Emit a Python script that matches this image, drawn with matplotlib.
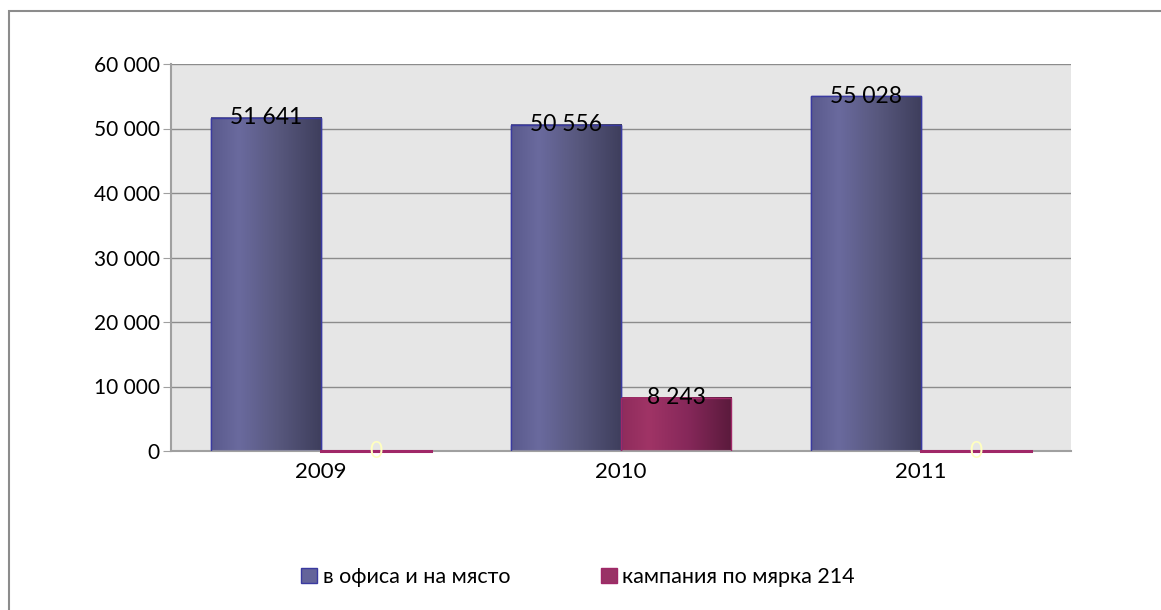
import numpy as np
import matplotlib.pyplot as plt
from matplotlib.patches import Rectangle
from matplotlib.colors import LinearSegmentedColormap

plt.rcParams['font.family'] = ['Lato', 'DejaVu Sans']

years = ['2009', '2010', '2011']
office = [51641, 50556, 55028]
campaign = [0, 8243, 0]
series_names = ['в офиса и на място', 'кампания по мярка 214']

blue_base = '#64649a'
pink_base = '#993366'
blue_cmap = LinearSegmentedColormap.from_list(
    'blue', [(0, '#5a5a8c'), (0.25, '#6a6a9e'), (0.6, '#58587e'), (1, '#3e3e5c')])
pink_cmap = LinearSegmentedColormap.from_list(
    'pink', [(0, '#8e2c5c'), (0.25, '#a03466'), (0.6, '#86285a'), (1, '#5a1a3c')])


def fmt(v):
    return f'{v:,.0f}'.replace(',', ' ')


fig = plt.figure(figsize=(11.61, 6.10), dpi=100)
ax = fig.add_axes([171 / 1161, 1 - 451 / 610, 900 / 1161, 387 / 610])
ax.set_facecolor('#e6e6e6')

x = np.arange(len(years))
w = 0.3667
grad = np.linspace(0, 1, 256).reshape(1, -1)

b1 = ax.bar(x - w / 2, office, w, color=blue_base, edgecolor='#3a3aa0',
            linewidth=1, zorder=2, label=series_names[0])
b2 = ax.bar(x + w / 2, campaign, w, color=pink_base, edgecolor='#a02868',
            linewidth=1.2, zorder=2, label=series_names[1])

# shaded fill inside each bar; zero bars show as a flat line on the baseline
for bars, cmap in ((b1, blue_cmap), (b2, pink_cmap)):
    for p in bars:
        h = p.get_height()
        x0 = p.get_x()
        if h <= 0:
            ax.plot([x0, x0 + p.get_width()], [0, 0], color='#a02868',
                    linewidth=2.2, zorder=3.5, clip_on=False)
            continue
        ax.imshow(grad, cmap=cmap, aspect='auto', zorder=2.5,
                  extent=(x0, x0 + p.get_width(), 0, h), interpolation='bilinear')
        ax.add_patch(Rectangle((x0, 0), p.get_width(), h, fill=False,
                               edgecolor=p.get_edgecolor(), linewidth=1, zorder=3))

# value labels
for p, v in zip(b1, office):
    ax.text(p.get_x() + p.get_width() / 2, v, fmt(v), ha='center', va='center',
            fontsize=16.5, color='black', zorder=4)
for p, v in zip(b2, campaign):
    color = 'black' if v > 0 else '#ffffc0'
    ax.text(p.get_x() + p.get_width() / 2, v, fmt(v), ha='center', va='center',
            fontsize=16.5, color=color, zorder=4)

ax.set_xlim(-0.5, 2.5)
ax.set_ylim(0, 60000)
ax.set_yticks(np.arange(0, 60001, 10000))
ax.set_yticklabels([fmt(v) for v in np.arange(0, 60001, 10000)], fontsize=15)
ax.set_xticks(x)
ax.set_xticklabels(years, fontsize=16)
ax.tick_params(axis='y', length=6, color='#a0a0a0', pad=2)
ax.tick_params(axis='x', length=0, pad=8)
ax.yaxis.grid(True, color='#8c8c8c', linewidth=1)
ax.set_axisbelow(True)
for s in ('top', 'right'):
    ax.spines[s].set_visible(False)
for s in ('left', 'bottom'):
    ax.spines[s].set_color('#a0a0a0')
    ax.spines[s].set_linewidth(1.5)

handles = [Rectangle((0, 0), 1, 1, facecolor=blue_base, edgecolor='#3a3aa0'),
           Rectangle((0, 0), 1, 1, facecolor=pink_base, edgecolor='#a02868')]
fig.legend(handles, series_names, loc='center', bbox_to_anchor=(578 / 1161, 1 - 577 / 610),
           ncol=2, frameon=False, fontsize=15.5, handlelength=0.75, handleheight=0.75,
           handletextpad=0.25, columnspacing=4.2)

# outer chart frame
fig.add_artist(Rectangle((8.5 / 1161, -0.05), 1.1, 1 - 10.5 / 610 + 0.05,
                         transform=fig.transFigure, fill=False,
                         edgecolor='#8c8c8c', linewidth=1.5))

fig.savefig('out.png', dpi=100)
